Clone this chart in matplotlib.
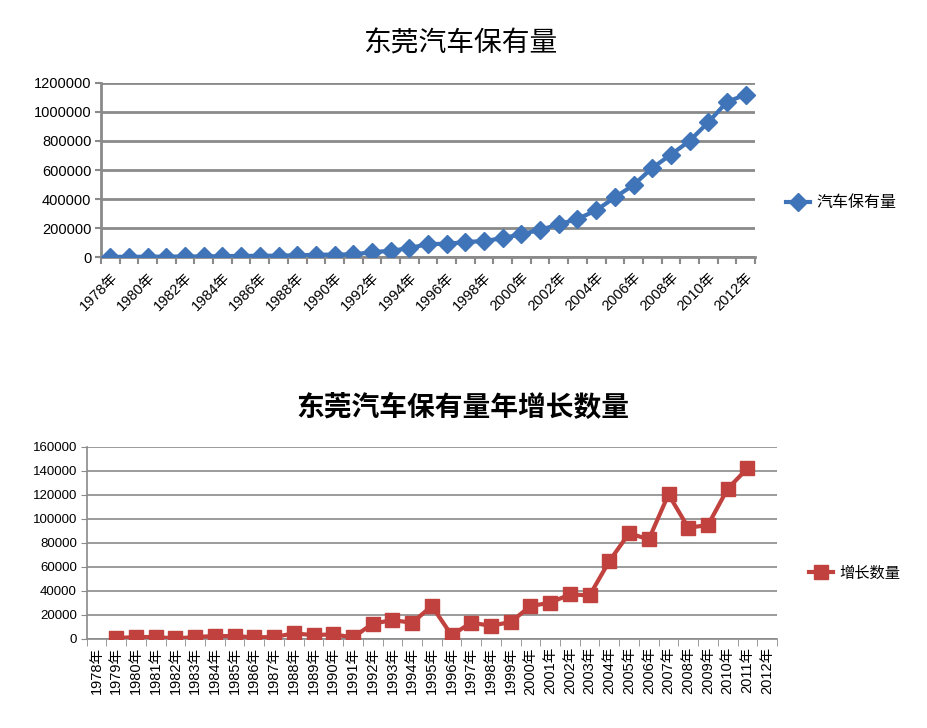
import matplotlib
matplotlib.use("Agg")
import matplotlib.pyplot as plt
import numpy as np

plt.rcParams['font.family'] = ['Liberation Sans', 'Noto Sans CJK SC', 'DejaVu Sans']

years = [f"{y}年" for y in range(1978, 2013)]

stock = [3000, 3500, 4000, 5000, 5500, 6000, 8000, 9500, 10000, 11500,
         14000, 17000, 19000, 20000, 35000, 45000, 62000, 92000, 92000, 105000,
         112000, 131000, 160000, 188000, 227000, 263000, 323000, 412000, 497000, 614000,
         706000, 800000, 928000, 1068000, 1118000]

growth = [None, 500, 1400, 1400, 200, 1400, 2200, 2200, 1100, 1400,
          4400, 3000, 3600, 1100, 12500, 15500, 13300, 27200, 3000, 13300,
          10800, 13900, 27200, 30000, 36900, 36100, 64700, 87800, 82800, 120300,
          92500, 94700, 125000, 141900, None]

stock_label = "汽车保有量"
growth_label = "增长数量"
title_top = "东莞汽车保有量"
title_bottom = "东莞汽车保有量年增长数量"

W, H = 927, 728
fig = plt.figure(figsize=(W / 100, H / 100), dpi=100)
fig.patch.set_facecolor('white')

def px_axes(left, top, right, bottom):
    return fig.add_axes([left / W, 1 - bottom / H, (right - left) / W, (bottom - top) / H])

grid_col = '#8a8a8a'
blue = '#3F74B8'
red = '#C0413D'
n = len(years)
x = np.arange(n)

# ---------- top chart ----------
ax1 = px_axes(101, 82.7, 755, 257.3)
ax1.plot(x, stock, color=blue, lw=3, marker='D', ms=9, zorder=3)
ax1.set_xlim(-0.5, n - 0.5)
ax1.set_ylim(0, 1200000)
ax1.set_yticks(np.arange(0, 1200001, 200000))
ax1.set_yticklabels([str(v) for v in range(0, 1200001, 200000)], fontsize=10.5)
ax1.yaxis.grid(True, color=grid_col, lw=2)
ax1.set_axisbelow(True)
for s in ['top', 'right']:
    ax1.spines[s].set_visible(False)
ax1.spines['left'].set_color(grid_col)
ax1.spines['left'].set_linewidth(2)
ax1.spines['bottom'].set_color(grid_col)
ax1.spines['bottom'].set_linewidth(2)
ax1.tick_params(axis='y', length=4, width=1.5, color=grid_col, pad=3)
ax1.set_xticks(x[::2])
ax1.set_xticklabels(years[::2], rotation=45, ha='right', rotation_mode='anchor', fontsize=10.5)
ax1.set_xticks(np.arange(-0.5, n, 1), minor=True)
ax1.tick_params(axis='x', which='major', length=0, pad=9)
ax1.tick_params(axis='x', which='minor', length=5, width=1.5, color=grid_col)
fig.text(460 / W, 1 - 43 / H, title_top, ha='center', va='center', fontsize=20,
         family=['Noto Sans CJK SC'])
ax1.legend([stock_label], loc='center left', bbox_to_anchor=(772 / W, 1 - 203 / H),
           bbox_transform=fig.transFigure, frameon=False, handlelength=1.5,
           handletextpad=0.4,
           prop={'family': ['Noto Sans CJK SC'], 'size': 11.5})

# ---------- bottom chart ----------
ax2 = px_axes(86.7, 446.7, 777, 638.7)
gx = [i for i, v in enumerate(growth) if v is not None]
gv = [v for v in growth if v is not None]
ax2.plot(gx, gv, color=red, lw=3, marker='s', ms=10, zorder=3)
ax2.set_xlim(-0.5, n - 0.5)
ax2.set_ylim(0, 160000)
ax2.set_yticks(np.arange(0, 160001, 20000))
ax2.set_yticklabels([str(v) for v in range(0, 160001, 20000)], fontsize=9.5)
ax2.yaxis.grid(True, color=grid_col, lw=1.2)
ax2.set_axisbelow(True)
for s in ['top', 'right']:
    ax2.spines[s].set_visible(False)
ax2.spines['left'].set_color(grid_col)
ax2.spines['bottom'].set_color(grid_col)
ax2.spines['left'].set_linewidth(1.2)
ax2.spines['bottom'].set_linewidth(1.2)
ax2.tick_params(axis='y', length=4, color=grid_col, pad=3)
ax2.set_xticks(x)
ax2.set_xticklabels(years, rotation=90, fontsize=10.5)
ax2.set_xticks(np.arange(-0.5, n, 1), minor=True)
ax2.tick_params(axis='x', which='major', length=0, pad=6)
ax2.tick_params(axis='x', which='minor', length=5, color=grid_col)
fig.text(463 / W, 1 - 408 / H, title_bottom, ha='center', va='center', fontsize=20,
         fontweight='bold', family=['Noto Sans CJK SC'])
ax2.legend([growth_label], loc='center left', bbox_to_anchor=(795 / W, 1 - 573 / H),
           bbox_transform=fig.transFigure, frameon=False, handlelength=1.6,
           handletextpad=0.4,
           prop={'family': ['Noto Sans CJK SC'], 'size': 11, 'weight': 'medium'})

fig.savefig("out.png", dpi=100, facecolor='white')
